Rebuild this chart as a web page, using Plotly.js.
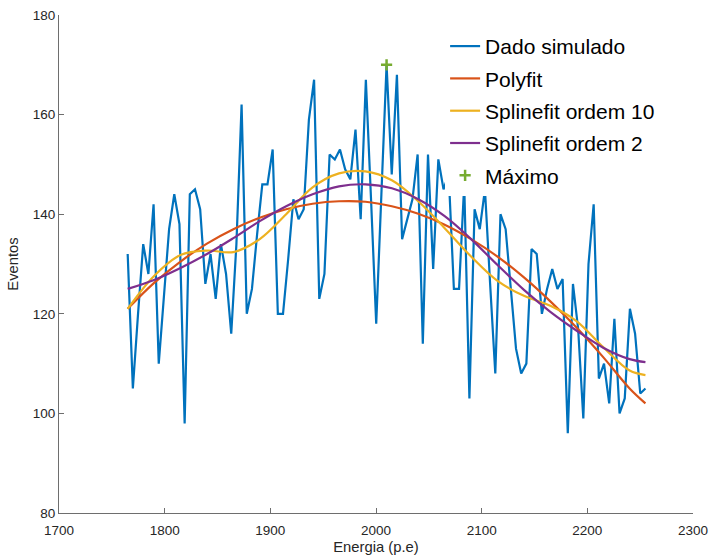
<!DOCTYPE html>
<html>
<head>
<meta charset="utf-8">
<script src="https://cdn.plot.ly/plotly-3.0.1.min.js"></script>
<style>html,body{margin:0;padding:0;background:#fff;}#chart{width:711px;height:558px;}</style>
</head>
<body>
<div id="chart"></div>
<script>
// Simulated data (Energia vs Eventos)
var energia = [1765, 1769.9, 1774.8, 1779.7, 1784.6, 1789.5, 1794.4, 1799.3, 1804.2, 1809.1,
  1814, 1818.9, 1823.8, 1828.7, 1833.6, 1838.5, 1843.4, 1848.3, 1853.2, 1858.1,
  1863, 1867.9, 1872.8, 1877.7, 1882.6, 1887.5, 1892.4, 1897.3, 1902.2, 1907.1,
  1912, 1916.9, 1921.8, 1926.7, 1931.6, 1936.5, 1941.4, 1946.3, 1951.2, 1956.1,
  1961, 1965.9, 1970.8, 1975.7, 1980.6, 1985.5, 1990.4, 1995.3, 2000.2, 2005.1,
  2010, 2014.9, 2019.8, 2024.7, 2029.6, 2034.5, 2039.4, 2044.3, 2049.2, 2054.1,
  2059, 2063.9, 2068.8, 2073.7, 2078.6, 2083.5, 2088.4, 2093.3, 2098.2, 2103.1,
  2108, 2112.9, 2117.8, 2122.7, 2127.6, 2132.5, 2137.4, 2142.3, 2147.2, 2152.1,
  2157, 2161.9, 2166.8, 2171.7, 2176.6, 2181.5, 2186.4, 2191.3, 2196.2, 2201.1,
  2206, 2210.9, 2215.8, 2220.7, 2225.6, 2230.5, 2235.4, 2240.3, 2245.2, 2250.1, 2255];
var eventos = [132, 105, 120, 134, 128, 142, 110, 124, 137, 144,
  138, 98, 144, 145, 141, 126, 132, 123, 134, 128,
  116, 134, 162, 120, 125, 136, 146, 146, 153, 120,
  120, 131, 143, 139, 141, 159, 167, 123, 128, 152,
  151, 153, 149, 147, 157, 139, 167, 143, 118, 144,
  170, 148, 168, 135, 139, 143, 152, 114, 152, 129,
  151, 145, 148, 125, 125, 146, 103, 141, 137, 145,
  126, 108, 140, 137, 125, 113, 108, 110, 133, 132,
  120, 125, 129, 125, 127, 96, 126, 117, 99, 130,
  142, 107, 110, 102, 119, 100, 103, 121, 116, 104, 105];

// Fitted curves, read at these energies
var xFit = [1765, 1790, 1815, 1840, 1865, 1890, 1915, 1940, 1965, 1990, 2015,
  2040, 2065, 2090, 2115, 2140, 2165, 2190, 2215, 2240, 2255];
var polyfit = [121.0, 126.2, 130.5, 134.1, 137.0, 139.3, 141.0, 142.1, 142.6, 142.5, 141.6,
  140.1, 137.9, 135.0, 131.5, 127.3, 122.5, 117.2, 111.3, 105.0, 102.0];
var spline10 = [121.0, 127.6, 131.8, 132.7, 132.4, 135.0, 140.0, 145.4, 148.2, 148.6, 146.8,
  142.6, 137.2, 131.5, 126.6, 123.6, 121.6, 118.5, 113.3, 108.6, 107.7];
var spline2 = [125.0, 126.8, 129.2, 132.0, 135.2, 138.6, 141.6, 144.0, 145.6, 146.0, 145.2,
  143.0, 139.6, 135.0, 129.8, 124.8, 120.4, 116.6, 113.2, 110.9, 110.3];

// Maximum
var maxX = [2010];
var maxY = [170];

var names = ['Dado simulado', 'Polyfit', 'Splinefit ordem 10', 'Splinefit ordem 2', 'Máximo'];
var xTicks = [1700, 1800, 1900, 2000, 2100, 2200, 2300];
var yTicks = [80, 100, 120, 140, 160, 180];

var traces = [
  {x: energia, y: eventos, type: 'scatter', mode: 'lines', name: names[0], legendgroup: 'g1',
   line: {color: '#0072BD', width: 2.2}},
  {x: xFit, y: polyfit, type: 'scatter', mode: 'lines', name: names[1], legendgroup: 'g2',
   line: {color: '#D95319', width: 2.2, shape: 'spline'}},
  {x: xFit, y: spline10, type: 'scatter', mode: 'lines', name: names[2], legendgroup: 'g3',
   line: {color: '#EDB120', width: 2.2, shape: 'spline'}},
  {x: xFit, y: spline2, type: 'scatter', mode: 'lines', name: names[3], legendgroup: 'g4',
   line: {color: '#7E2F8E', width: 2.2, shape: 'spline'}},
  {x: maxX, y: maxY, type: 'scatter', mode: 'markers', name: names[4], legendgroup: 'g5',
   marker: {symbol: 'cross-thin', size: 8, color: '#77AC30', line: {color: '#77AC30', width: 2.5}}}
];

var axisColor = '#6e6e6e';
var layout = {
  width: 711, height: 558,
  margin: {l: 59, r: 18, t: 15, b: 45},
  paper_bgcolor: '#fff', plot_bgcolor: '#fff',
  font: {family: 'Liberation Sans, Arial, sans-serif', color: '#262626'},
  showlegend: true,
  legend: {x: 0.609, y: 0.978, xanchor: 'left', yanchor: 'top',
    bgcolor: '#ffffff', borderwidth: 0, font: {size: 21, color: '#000'},
    itemwidth: 30, tracegroupgap: 2},
  xaxis: {range: [1700, 2300], tickvals: xTicks, ticktext: xTicks.map(String),
    showgrid: false, zeroline: false, showline: true, linecolor: axisColor, linewidth: 1,
    ticks: 'inside', ticklen: 5, tickcolor: axisColor, tickfont: {size: 13.5, color: '#262626'},
    ticklabelstandoff: 5,
    title: {text: 'Energia (p.e)', font: {size: 14.8, color: '#262626'}, standoff: 4}},
  yaxis: {range: [80, 180], tickvals: yTicks, ticktext: yTicks.map(String),
    showgrid: false, zeroline: false, showline: true, linecolor: axisColor, linewidth: 1,
    ticks: 'inside', ticklen: 5, tickcolor: axisColor, tickfont: {size: 13.5, color: '#262626'},
    title: {text: 'Eventos', font: {size: 14.8, color: '#262626'}, standoff: 10}}
};

Plotly.newPlot('chart', traces, layout, {displayModeBar: false, staticPlot: true});
</script>
</body>
</html>
